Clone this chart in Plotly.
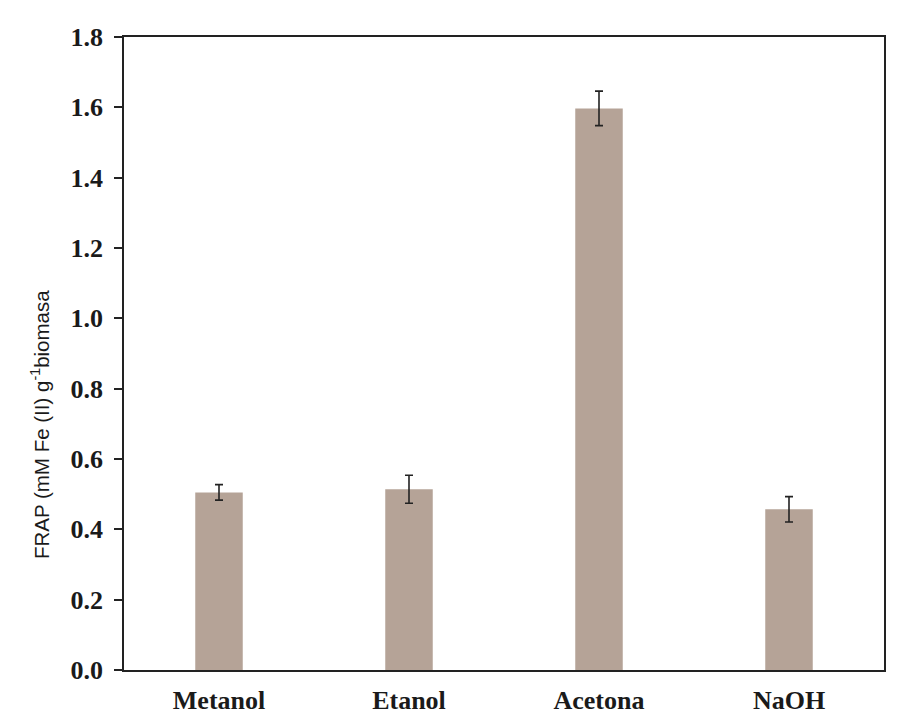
import plotly.graph_objects as go

categories = ["Metanol", "Etanol", "Acetona", "NaOH"]
values = [0.505, 0.514, 1.597, 0.457]
errors = [0.022, 0.040, 0.049, 0.036]
y_ticks = [0.0, 0.2, 0.4, 0.6, 0.8, 1.0, 1.2, 1.4, 1.6, 1.8]
y_tick_labels = ["0.0", "0.2", "0.4", "0.6", "0.8", "1.0", "1.2", "1.4", "1.6", "1.8"]
y_title = "FRAP (mM Fe (II) g<sup>-1</sup>biomasa"

fig = go.Figure()
fig.add_trace(go.Bar(
    x=categories, y=values,
    marker=dict(color="#B5A397", line=dict(width=0)),
    error_y=dict(type="data", array=errors, visible=True,
                 color="#222222", thickness=1.6, width=4),
))

fig.update_layout(
    width=920, height=728,
    margin=dict(l=116, r=44, t=29, b=66),
    paper_bgcolor="white", plot_bgcolor="white",
    bargap=0.75,
    showlegend=False,
    xaxis=dict(
        automargin=False,
        showline=True, linecolor="#222222", linewidth=1.5, mirror=True,
        ticks="", showgrid=False,
        tickvals=categories, ticktext=[f"<b>{c}</b>" for c in categories],
        tickfont=dict(family="Liberation Serif", size=26, color="#1a1a1a"),
        ticklabelstandoff=6,
    ),
    yaxis=dict(
        automargin=False,
        range=[0, 1.8],
        tickvals=y_ticks, ticktext=[f"<b>{t}</b>" for t in y_tick_labels],
        showline=True, linecolor="#222222", linewidth=1.5, mirror=True,
        ticks="outside", ticklen=8, tickwidth=1.5, tickcolor="#222222",
        showgrid=False, zeroline=False,
        tickfont=dict(family="Liberation Serif", size=26, color="#1a1a1a"),
        ticklabelstandoff=6,
    ),
    annotations=[dict(
        text=y_title, textangle=-90,
        xref="paper", yref="paper", x=-0.1105, y=0.387,
        xanchor="center", yanchor="middle", showarrow=False,
        font=dict(family="Liberation Sans", size=20.5, color="#1a1a1a"),
    )],
)

fig.write_html("out.html")
